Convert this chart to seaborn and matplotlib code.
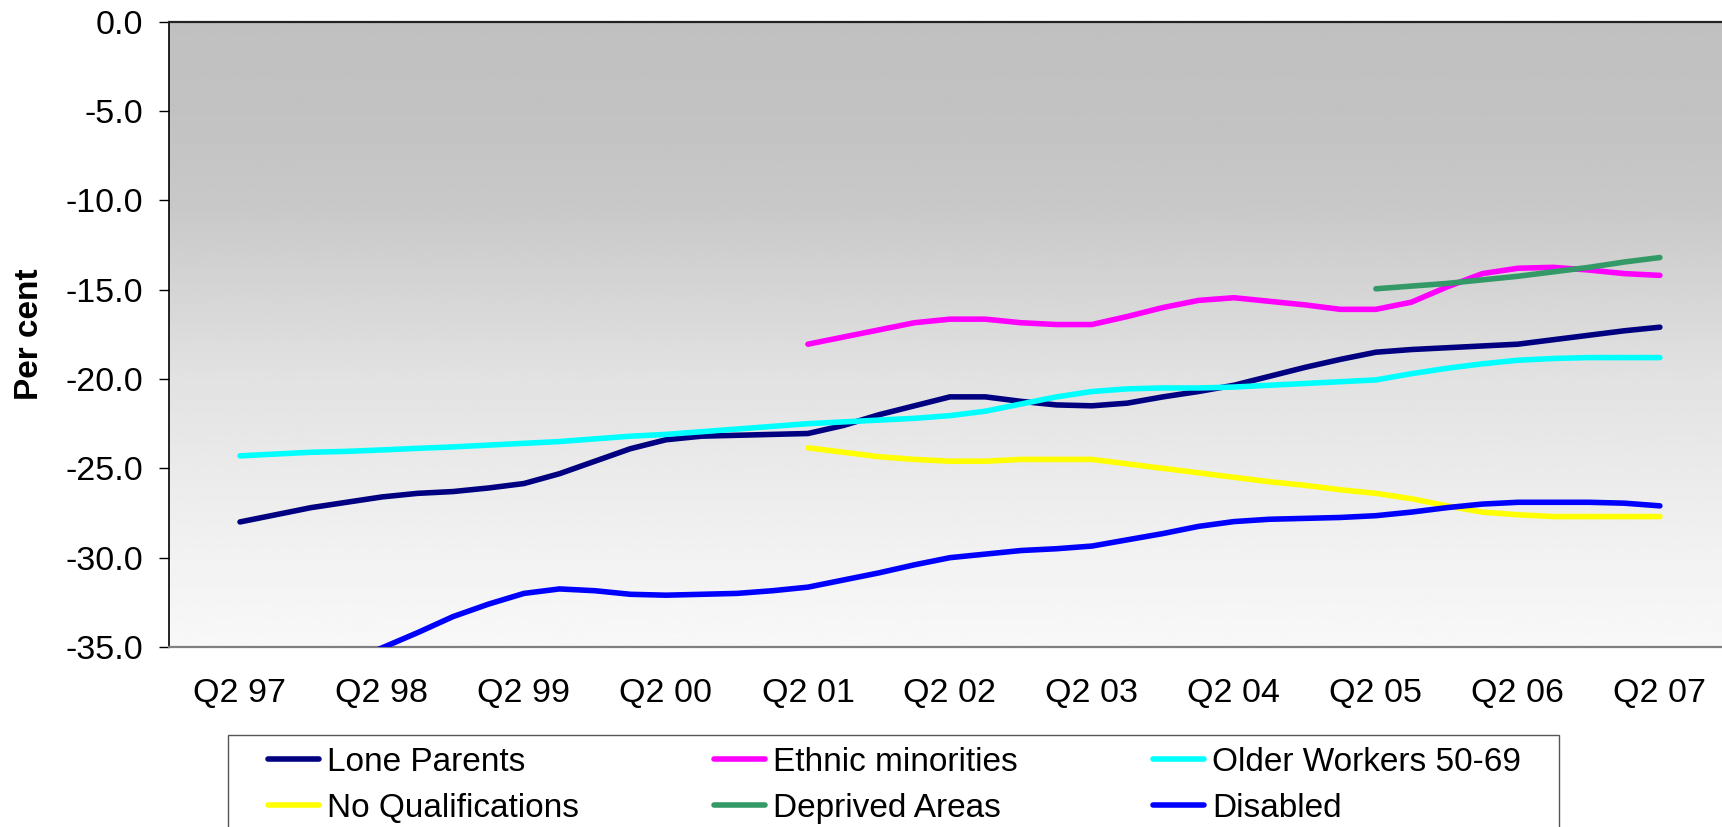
import numpy as np
import pandas as pd
import seaborn as sns
import matplotlib.pyplot as plt
from matplotlib.patches import Rectangle

sns.set_theme(style='white')
plt.rcParams['font.family'] = ['Liberation Sans', 'DejaVu Sans']
plt.rcParams['axes.unicode_minus'] = False
plt.rcParams['text.color'] = 'black'
plt.rcParams['axes.labelcolor'] = 'black'

# quarters Q2 97 .. Q2 07
quarters = [f'Q{(q % 4) + 1} {(97 + (q + 1) // 4) % 100:02d}' for q in range(1, 42)]
tick_labels = quarters[::4]

lone_parents = [-28.0, -27.6, -27.2, -26.9, -26.6, -26.4, -26.3, -26.1, -25.85, -25.3,
                -24.6, -23.9, -23.4, -23.2, -23.15, -23.1, -23.05, -22.6, -22.0, -21.5,
                -21.0, -21.0, -21.25, -21.45, -21.5, -21.35, -21.0, -20.7, -20.35, -19.85,
                -19.35, -18.9, -18.5, -18.35, -18.25, -18.15, -18.05, -17.8, -17.55, -17.3,
                -17.1]
ethnic = [None] * 16 + [-18.05, -17.65, -17.25, -16.85, -16.65, -16.65, -16.85, -16.95, -16.95,
                        -16.5, -16.0, -15.6, -15.45, -15.65, -15.85, -16.1, -16.1, -15.7,
                        -14.85, -14.1, -13.8, -13.75, -13.9, -14.1, -14.2]
older = [-24.3, -24.2, -24.1, -24.05, -23.97, -23.88, -23.8, -23.7, -23.6, -23.5,
         -23.35, -23.2, -23.1, -22.95, -22.8, -22.65, -22.5, -22.4, -22.3, -22.2,
         -22.05, -21.8, -21.4, -21.0, -20.7, -20.55, -20.5, -20.5, -20.45, -20.35,
         -20.25, -20.15, -20.05, -19.7, -19.4, -19.15, -18.95, -18.85, -18.8, -18.8,
         -18.8]
no_quals = [None] * 16 + [-23.85, -24.1, -24.35, -24.5, -24.6, -24.6, -24.5, -24.5, -24.5,
                          -24.75, -25.0, -25.25, -25.5, -25.75, -25.95, -26.2, -26.4, -26.7,
                          -27.1, -27.45, -27.6, -27.7, -27.7, -27.7, -27.7]
deprived = [None] * 32 + [-14.95, -14.8, -14.65, -14.45, -14.25, -14.0, -13.75, -13.45, -13.2]
disabled = [-38.4, -37.5, -36.7, -35.9, -35.05, -34.2, -33.3, -32.6, -32.0, -31.75,
            -31.85, -32.05, -32.1, -32.05, -32.0, -31.85, -31.65, -31.25, -30.85, -30.4,
            -30.0, -29.8, -29.6, -29.5, -29.35, -29.0, -28.65, -28.25, -27.98, -27.85,
            -27.8, -27.75, -27.65, -27.45, -27.2, -27.0, -26.9, -26.9, -26.9, -26.95,
            -27.1]

series = {
    'Lone Parents': lone_parents,
    'Ethnic minorities': ethnic,
    'Older Workers 50-69': older,
    'No Qualifications': no_quals,
    'Deprived Areas': deprived,
    'Disabled': disabled,
}
colors = {
    'Lone Parents': '#000080',
    'Ethnic minorities': '#FF00FF',
    'Older Workers 50-69': '#00FFFF',
    'No Qualifications': '#FFFF00',
    'Deprived Areas': '#339966',
    'Disabled': '#0000FF',
}

rows = []
for name, vals in series.items():
    for i, v in enumerate(vals):
        if v is not None:
            rows.append({'quarter': i, 'group': name, 'value': v})
df = pd.DataFrame(rows)

W, H = 1722, 827
fig = plt.figure(figsize=(W / 100, H / 100), dpi=100)
ax = fig.add_axes([169 / W, 1 - 647 / H, 1 - 169 / W, (647 - 21.7) / H])

xlim = (-2.0, 41.75)
# grey gradient plot area
stops = [0, 0.14, 0.29, 0.43, 0.57, 0.71, 0.86, 1.0]
levels = [192, 194, 200, 213, 226, 234, 242, 248]
grad = np.interp(np.linspace(0, 1, 256), stops, levels).reshape(-1, 1)
ax.imshow(grad, cmap='gray', vmin=0, vmax=255, aspect='auto', extent=(xlim[0], xlim[1], -35, 0),
          origin='upper', interpolation='bilinear', zorder=0)

hue_order = list(series.keys())
sns.lineplot(data=df, x='quarter', y='value', hue='group', hue_order=hue_order, palette=colors,
             linewidth=4.0, solid_capstyle='round', ax=ax, zorder=3, legend=True)

ax.set_xlim(*xlim)
ax.set_ylim(-35, 0)
ax.set_yticks(np.arange(-35, 0.1, 5))
ax.set_yticklabels([f'{v:.1f}' for v in np.arange(-35, 0.1, 5)])
ax.set_xticks(range(0, 41, 4))
ax.set_xticklabels(tick_labels)
ax.tick_params(axis='y', length=7, width=1, pad=11.5, labelsize=24.5, colors='black', left=True)
ax.tick_params(axis='x', length=0, pad=22, labelsize=24.5, colors='black')
ax.set_xlabel('')
ax.set_ylabel('Per cent', fontsize=24, fontweight='bold', va='center')
ax.yaxis.set_label_coords((30 - 169) / (W - 169), 0.5)

ax.spines['right'].set_visible(False)
ax.spines['left'].set_color('black')
ax.spines['left'].set_linewidth(1.2)
ax.spines['top'].set_color('#222222')
ax.spines['top'].set_linewidth(1.6)
ax.spines['bottom'].set_color('#808080')
ax.spines['bottom'].set_linewidth(1.6)

handles, labels = ax.get_legend_handles_labels()
ax.get_legend().remove()
hmap = dict(zip(labels, handles))
order = ['Lone Parents', 'No Qualifications', 'Ethnic minorities', 'Deprived Areas',
         'Older Workers 50-69', 'Disabled']
leg = fig.legend([hmap[k] for k in order], order, ncol=3, loc='upper left',
                 bbox_to_anchor=(268 / W, 1 - 747 / H, (1521 - 268) / W, 0), mode='expand',
                 frameon=False, fontsize=24, borderpad=0, borderaxespad=0,
                 handlelength=1.53, handletextpad=0.25, labelspacing=0.45)
for line in leg.get_lines():
    line.set_linewidth(4.0)
    line.set_solid_capstyle('round')

fig.add_artist(Rectangle((228 / W, -0.1), (1559 - 228) / W, 0.1 + 1 - 735 / H,
                         transform=fig.transFigure, fill=False, edgecolor='#555555', lw=1.0))

fig.savefig('out.png', dpi=100)
